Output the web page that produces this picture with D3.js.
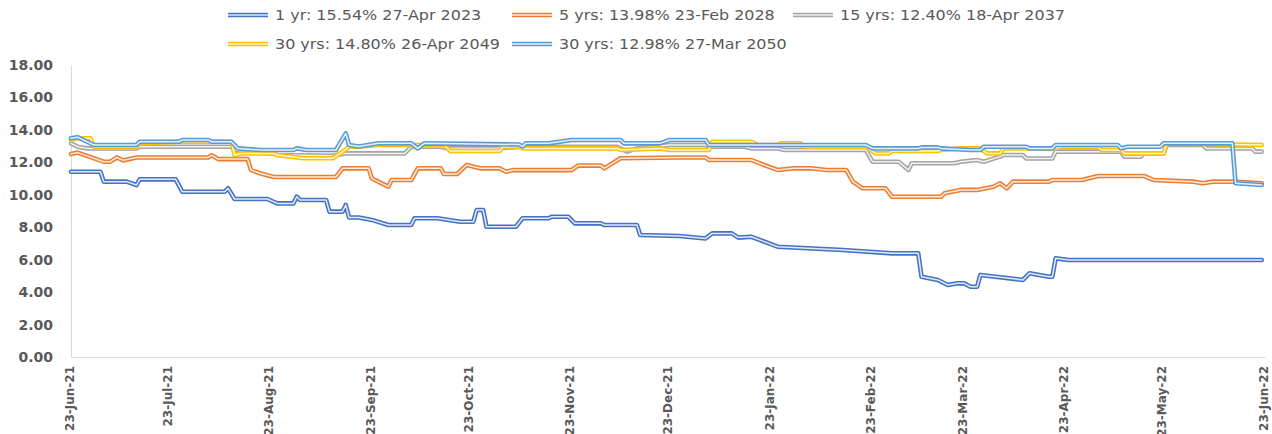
<!DOCTYPE html>
<html><head><meta charset="utf-8">
<script src="https://cdn.jsdelivr.net/npm/d3@7"></script>
<style>body{margin:0;background:#fff;overflow:hidden}</style>
</head><body>
<svg id="chart" width="1272" height="434"></svg>
<script>
// ---------- DATA ----------
const seriesNames = [
  "1 yr: 15.54% 27-Apr 2023",
  "5 yrs: 13.98% 23-Feb 2028",
  "15 yrs: 12.40% 18-Apr 2037",
  "30 yrs: 14.80% 26-Apr 2049",
  "30 yrs: 12.98% 27-Mar 2050"
];
const seriesColors = ["#4472C4", "#ED7D31", "#A5A5A5", "#FFC000", "#5B9BD5"];
const yTicks = [0, 2, 4, 6, 8, 10, 12, 14, 16, 18];
const xTickDates = ["2021-06-23","2021-07-23","2021-08-23","2021-09-23","2021-10-23","2021-11-23",
  "2021-12-23","2022-01-23","2022-02-23","2022-03-23","2022-04-23","2022-05-23","2022-06-23"];

const yr1 = [
  ["2021-06-23",11.42],["2021-07-02",11.42],["2021-07-03",10.81],["2021-07-10",10.81],["2021-07-13",10.60],
  ["2021-07-14",10.95],["2021-07-25",10.95],["2021-07-27",10.19],["2021-08-09",10.19],["2021-08-10",10.40],
  ["2021-08-12",9.74],["2021-08-22",9.74],["2021-08-25",9.47],["2021-08-30",9.47],["2021-08-31",9.88],
  ["2021-09-01",9.68],["2021-09-09",9.68],["2021-09-10",8.96],["2021-09-14",8.96],["2021-09-15",9.37],
  ["2021-09-16",8.60],["2021-09-19",8.60],["2021-09-23",8.45],["2021-09-28",8.14],["2021-10-05",8.14],
  ["2021-10-06",8.55],["2021-10-13",8.55],["2021-10-20",8.34],["2021-10-24",8.34],["2021-10-25",9.06],
  ["2021-10-27",9.06],["2021-10-28",8.03],["2021-11-06",8.03],["2021-11-08",8.55],["2021-11-16",8.55],
  ["2021-11-17",8.65],["2021-11-22",8.65],["2021-11-24",8.24],["2021-12-02",8.24],["2021-12-03",8.14],
  ["2021-12-13",8.14],["2021-12-14",7.52],["2021-12-26",7.46],["2022-01-03",7.31],["2022-01-05",7.62],
  ["2022-01-11",7.62],["2022-01-13",7.36],["2022-01-17",7.41],["2022-01-25",6.80],["2022-02-14",6.60],
  ["2022-03-01",6.39],["2022-03-09",6.39],["2022-03-10",4.95],["2022-03-15",4.75],["2022-03-18",4.44],
  ["2022-03-21",4.54],["2022-03-23",4.54],["2022-03-25",4.33],["2022-03-27",4.33],["2022-03-28",5.06],
  ["2022-04-10",4.75],["2022-04-12",5.16],["2022-04-18",4.95],["2022-04-19",4.95],["2022-04-20",6.08],
  ["2022-04-24",5.98],["2022-06-22",5.98]
];
const yrs5 = [
  ["2021-06-23",12.51],["2021-06-25",12.60],["2021-07-03",12.04],["2021-07-05",12.04],["2021-07-07",12.30],
  ["2021-07-09",12.12],["2021-07-13",12.30],["2021-08-04",12.30],["2021-08-05",12.44],["2021-08-07",12.20],
  ["2021-08-16",12.20],["2021-08-17",11.53],["2021-08-20",11.31],["2021-08-24",11.10],["2021-09-12",11.10],
  ["2021-09-14",11.63],["2021-09-22",11.63],["2021-09-23",11.00],["2021-09-28",10.50],["2021-09-29",10.91],
  ["2021-10-05",10.91],["2021-10-07",11.63],["2021-10-14",11.63],["2021-10-15",11.28],["2021-10-19",11.28],
  ["2021-10-22",11.84],["2021-10-26",11.63],["2021-11-01",11.63],["2021-11-03",11.42],["2021-11-05",11.52],
  ["2021-11-23",11.52],["2021-11-25",11.80],["2021-12-02",11.80],["2021-12-03",11.63],["2021-12-08",12.25],
  ["2021-12-26",12.30],["2022-01-03",12.30],["2022-01-04",12.14],["2022-01-17",12.14],["2022-01-20",11.90],
  ["2022-01-25",11.53],["2022-01-30",11.63],["2022-02-04",11.63],["2022-02-09",11.53],["2022-02-15",11.53],
  ["2022-02-17",10.81],["2022-02-20",10.40],["2022-02-27",10.40],["2022-03-01",9.88],["2022-03-16",9.88],
  ["2022-03-17",10.09],["2022-03-22",10.30],["2022-03-27",10.30],["2022-04-01",10.50],["2022-04-03",10.71],
  ["2022-04-05",10.40],["2022-04-07",10.81],["2022-04-18",10.81],["2022-04-19",10.91],["2022-04-28",10.91],
  ["2022-05-03",11.16],["2022-05-17",11.16],["2022-05-20",10.91],["2022-06-01",10.81],["2022-06-04",10.71],
  ["2022-06-07",10.81],["2022-06-13",10.81],["2022-06-22",10.71]
];
const yrs15 = [
  ["2021-06-23",13.17],["2021-06-25",12.96],["2021-06-28",12.86],["2021-07-13",12.86],["2021-07-14",12.96],
  ["2021-08-11",12.96],["2021-08-12",12.76],["2021-08-24",12.55],["2021-08-25",12.45],["2021-09-11",12.40],
  ["2021-09-15",12.55],["2021-10-03",12.55],["2021-10-05",12.96],["2021-10-14",12.96],["2021-10-16",12.86],
  ["2021-10-31",12.86],["2021-11-08",12.96],["2021-12-07",12.96],["2021-12-10",12.66],["2021-12-13",12.86],
  ["2021-12-23",13.07],["2022-01-03",13.07],["2022-01-04",12.96],["2022-01-15",12.96],["2022-01-17",12.86],
  ["2022-01-25",12.86],["2022-01-27",12.76],["2022-02-21",12.76],["2022-02-23",12.04],["2022-03-03",12.04],
  ["2022-03-06",11.53],["2022-03-07",11.94],["2022-03-20",11.94],["2022-03-22",12.04],["2022-03-27",12.14],
  ["2022-03-29",12.04],["2022-04-03",12.35],["2022-04-04",12.45],["2022-04-10",12.45],["2022-04-11",12.24],
  ["2022-04-19",12.24],["2022-04-20",12.66],["2022-05-10",12.66],["2022-05-11",12.35],["2022-05-16",12.35],
  ["2022-05-17",12.55],["2022-05-23",12.55],["2022-05-24",13.07],["2022-06-04",13.07],["2022-06-05",12.86],
  ["2022-06-19",12.86],["2022-06-20",12.66],["2022-06-22",12.66]
];
const yrs30a = [
  ["2021-06-23",13.38],["2021-06-25",13.48],["2021-06-29",13.48],["2021-06-30",12.96],["2021-07-13",12.96],
  ["2021-07-14",13.17],["2021-07-26",13.27],["2021-08-11",13.27],["2021-08-12",12.45],["2021-08-14",12.55],
  ["2021-08-24",12.55],["2021-08-25",12.45],["2021-09-02",12.25],["2021-09-11",12.25],["2021-09-14",12.65],
  ["2021-09-16",12.96],["2021-09-19",12.96],["2021-09-25",13.07],["2021-10-15",13.07],["2021-10-17",12.70],
  ["2021-11-01",12.70],["2021-11-02",12.96],["2021-11-07",12.96],["2021-11-08",12.86],["2021-12-07",12.86],
  ["2021-12-08",12.76],["2021-12-20",12.86],["2021-12-23",12.76],["2022-01-04",12.76],["2022-01-05",13.27],
  ["2022-01-17",13.27],["2022-01-19",13.07],["2022-01-25",13.07],["2022-01-26",13.17],["2022-02-01",13.17],
  ["2022-02-02",12.96],["2022-02-21",12.96],["2022-02-24",12.55],["2022-02-28",12.55],["2022-03-01",12.70],
  ["2022-03-15",12.70],["2022-03-16",12.76],["2022-03-22",12.86],["2022-03-28",12.86],["2022-03-30",12.55],
  ["2022-04-03",12.55],["2022-04-04",12.86],["2022-04-20",12.86],["2022-04-22",12.96],["2022-05-03",12.96],
  ["2022-05-04",12.76],["2022-05-10",12.76],["2022-05-11",12.55],["2022-05-23",12.55],["2022-05-24",13.17],
  ["2022-06-22",13.07]
];
const yrs30b = [
  ["2021-06-23",13.48],["2021-06-25",13.55],["2021-06-30",13.07],["2021-07-13",13.07],["2021-07-14",13.27],
  ["2021-07-26",13.27],["2021-07-27",13.38],["2021-08-04",13.38],["2021-08-05",13.27],["2021-08-11",13.27],
  ["2021-08-13",12.86],["2021-08-20",12.76],["2021-08-30",12.76],["2021-08-31",12.86],["2021-09-03",12.76],
  ["2021-09-12",12.76],["2021-09-15",13.79],["2021-09-16",13.07],["2021-09-19",12.97],["2021-09-25",13.17],
  ["2021-10-05",13.17],["2021-10-07",12.86],["2021-10-09",13.17],["2021-11-07",13.10],["2021-11-08",12.97],
  ["2021-11-09",13.17],["2021-11-16",13.17],["2021-11-23",13.38],["2021-12-08",13.38],["2021-12-09",13.17],
  ["2021-12-20",13.17],["2021-12-23",13.38],["2022-01-03",13.38],["2022-01-04",13.07],["2022-02-21",13.07],
  ["2022-02-23",12.86],["2022-03-09",12.86],["2022-03-10",12.92],["2022-03-15",12.92],["2022-03-16",12.86],
  ["2022-03-25",12.76],["2022-03-28",12.76],["2022-03-29",12.96],["2022-04-11",12.96],["2022-04-12",12.86],
  ["2022-04-19",12.86],["2022-04-20",13.07],["2022-05-09",13.07],["2022-05-10",12.86],["2022-05-12",12.96],
  ["2022-05-22",12.96],["2022-05-23",13.17],["2022-06-13",13.17],["2022-06-14",10.71],["2022-06-22",10.60]
];
const allSeries = [yr1, yrs5, yrs15, yrs30a, yrs30b];

// ---------- CHART ----------
const parse = d3.timeParse("%Y-%m-%d");
const fmt = d3.timeFormat("%d-%b-%y");
const svg = d3.select("#chart");
const textColor = "#595959";
const axisColor = "#D9D9D9";

const x = d3.scaleTime()
  .domain([parse(xTickDates[0]), parse(xTickDates[xTickDates.length - 1])])
  .range([71, 1265]);
const y = d3.scaleLinear().domain([0, 18]).range([357, 65]);

// Y axis
const yAxis = d3.axisLeft(y).tickValues(yTicks).tickFormat(d3.format(".2f")).tickSize(0).tickPadding(18);
const gy = svg.append("g").attr("transform", "translate(71,0)").call(yAxis);
gy.select(".domain").attr("stroke", axisColor);
gy.selectAll("text")
  .attr("fill", textColor)
  .style("font-family", "DejaVu Sans, sans-serif")
  .style("font-weight", "bold")
  .style("font-size", "14px");

// X axis
const xAxis = d3.axisBottom(x).tickValues(xTickDates.map(parse)).tickFormat(fmt).tickSize(0).tickPadding(0);
const gx = svg.append("g").attr("transform", "translate(0,357)").call(xAxis);
gx.select(".domain").attr("stroke", axisColor);
gx.selectAll("text")
  .attr("fill", textColor)
  .style("font-family", "DejaVu Sans, sans-serif")
  .style("font-weight", "bold")
  .style("font-size", "12px")
  .attr("text-anchor", "end")
  .attr("dy", "0.35em")
  .attr("transform", "translate(-2,9) rotate(-90)")
  .attr("x", 0).attr("y", 0);

// Lines (compound "double" style)
const line = d3.line()
  .x(d => x(parse(d[0])))
  .y(d => y(d[1]))
  .curve(d3.curveLinear);

allSeries.forEach((s, i) => {
  const g = svg.append("g");
  g.append("path").datum(s).attr("d", line)
    .attr("fill", "none").attr("stroke", seriesColors[i])
    .attr("stroke-width", 4.6).attr("stroke-linejoin", "round").attr("stroke-linecap", "round");
  g.append("path").datum(s).attr("d", line)
    .attr("fill", "none").attr("stroke", "#fff").attr("stroke-opacity", 0.85)
    .attr("stroke-width", 1.5).attr("stroke-linejoin", "round").attr("stroke-linecap", "round");
});

// Legend
const legendPos = [[228, 15], [512, 15], [793, 15], [228, 44], [512, 44]];
seriesNames.forEach((name, i) => {
  const [lx, ly] = legendPos[i];
  const g = svg.append("g").attr("transform", `translate(${lx},${ly})`);
  g.append("line").attr("x1", 0).attr("x2", 40).attr("y1", 0).attr("y2", 0)
    .attr("stroke", seriesColors[i]).attr("stroke-width", 4.6);
  g.append("line").attr("x1", 0).attr("x2", 40).attr("y1", 0).attr("y2", 0)
    .attr("stroke", "#fff").attr("stroke-opacity", 0.85).attr("stroke-width", 1.5);
  g.append("text").attr("transform", "translate(47,0) scale(1.14,1)")
    .attr("dy", "0.36em")
    .attr("fill", textColor)
    .style("font-family", "DejaVu Sans, sans-serif")
    .style("font-size", "14px")
    .text(name);
});
</script>
</body></html>
